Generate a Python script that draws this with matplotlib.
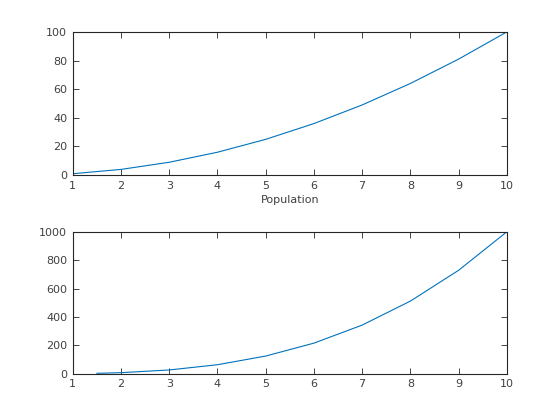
import matplotlib
matplotlib.use("Agg")
import matplotlib.pyplot as plt

x_top = [1, 2, 3, 4, 5, 6, 7, 8, 9, 10]
y_top = [1, 4, 9, 16, 25, 36, 49, 64, 81, 100]
x_bot = [1.5, 2, 3, 4, 5, 6, 7, 8, 9, 10]
y_bot = [3.4, 8, 27, 64, 125, 216, 343, 512, 729, 1000]
x_ticks = [1, 2, 3, 4, 5, 6, 7, 8, 9, 10]
y_ticks_top = [0, 20, 40, 60, 80, 100]
y_ticks_bot = [0, 200, 400, 600, 800, 1000]

plt.rcParams['font.family'] = ['DejaVu Sans']
fig = plt.figure(figsize=(5.6, 4.2), dpi=100)
tc = '#262626'
lc = '#404040'
line_c = '#0072BD'

def style(ax):
    for s in ax.spines.values():
        s.set_color(tc)
        s.set_linewidth(0.8)
    ax.tick_params(direction='in', length=4, width=0.6, colors=tc, labelcolor=lc,
                   labelsize=8, top=True, right=True, pad=4)

ax1 = fig.add_axes([0.130, 0.583, 0.775, 0.341])
ax1.plot(x_top, y_top, color=line_c, lw=0.8)
ax1.set_xlim(1, 10)
ax1.set_ylim(0, 100)
ax1.set_xticks(x_ticks)
ax1.set_yticks(y_ticks_top)
ax1.set_xlabel('Population', fontsize=8, color=lc, labelpad=3)
style(ax1)

ax2 = fig.add_axes([0.130, 0.110, 0.775, 0.338])
ax2.plot(x_bot, y_bot, color=line_c, lw=0.8)
ax2.set_xlim(1, 10)
ax2.set_ylim(0, 1000)
ax2.set_xticks(x_ticks)
ax2.set_yticks(y_ticks_bot)
style(ax2)

fig.savefig('out.png', dpi=100, facecolor='white')
